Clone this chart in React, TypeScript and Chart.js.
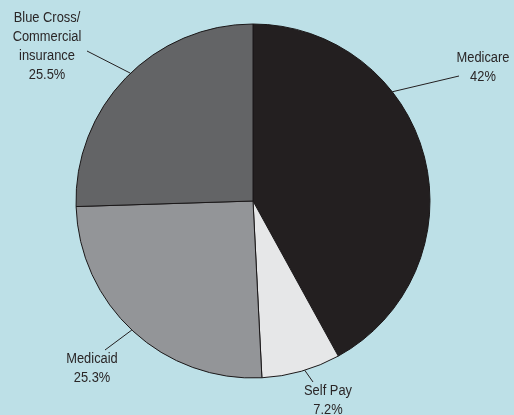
import React, { useEffect, useRef } from "react";
import { Chart, registerables } from "chart.js";

Chart.register(...registerables);

const categories = ["Medicare", "Self Pay", "Medicaid", "Blue Cross/\nCommercial\ninsurance"];
const shares = [42, 7.2, 25.3, 25.5];
const valueLabels = ["42%", "7.2%", "25.3%", "25.5%"];
const sliceColors = ["#231f20", "#e6e7e8", "#939598", "#636466"];

// label layout: edge angle (deg clockwise from top), leader end and text anchor relative to pie center
const labelLayout = [
  { angle: 51.9, end: [206, -125], text: [230, -143] },
  { angle: 163, end: [60, 181], text: [75, 190] },
  { angle: 223.2, end: [-148, 149], text: [-161, 158] },
  { angle: 316.2, end: [-166, -150], text: [-206, -183] },
];

const labelPlugin = {
  id: "leaderLabels",
  afterDatasetsDraw(chart: any) {
    const ctx = chart.ctx;
    const meta = chart.getDatasetMeta(0);
    const arc0 = meta.data[0] as any;
    if (!arc0) return;
    const cx = arc0.x;
    const cy = arc0.y;
    const r = arc0.outerRadius;
    ctx.save();
    ctx.strokeStyle = "#231f20";
    ctx.lineWidth = 1;
    ctx.fillStyle = "#2a2627";
    ctx.font = "14px 'Liberation Sans', Arial, sans-serif";
    ctx.textAlign = "center";
    ctx.textBaseline = "middle";
    const sx = 0.92;
    categories.forEach((cat, i) => {
      const L = labelLayout[i];
      const a = (L.angle * Math.PI) / 180;
      ctx.beginPath();
      ctx.moveTo(cx + r * Math.sin(a), cy - r * Math.cos(a));
      ctx.lineTo(cx + L.end[0], cy + L.end[1]);
      ctx.stroke();
      const lines = [...cat.split("\n"), valueLabels[i]];
      lines.forEach((t, j) => {
        const tx = cx + L.text[0];
        const ty = cy + L.text[1] + j * 19;
        ctx.save();
        ctx.translate(tx, ty);
        ctx.scale(sx, 1);
        ctx.fillText(t, 0, 0);
        ctx.restore();
      });
    });
    ctx.restore();
  },
};

export default function App() {
  const ref = useRef<HTMLCanvasElement>(null);
  useEffect(() => {
    document.body.style.margin = "0";
    const chart = new Chart(ref.current!, {
      type: "pie",
      data: {
        labels: categories,
        datasets: [
          {
            data: shares,
            backgroundColor: sliceColors,
            borderColor: "#1a1718",
            borderWidth: 1,
            radius: 177,
          } as any,
        ],
      },
      options: {
        animation: false,
        responsive: false,
        layout: { padding: { left: 0, right: 8, top: 0, bottom: 13 } },
        plugins: { legend: { display: false }, tooltip: { enabled: false } },
      },
      plugins: [labelPlugin],
    });
    return () => chart.destroy();
  }, []);
  return (
    <div style={{ width: 514, height: 415, background: "#bde0e7" }}>
      <canvas ref={ref} width={514} height={415} style={{ display: "block" }} />
    </div>
  );
}
